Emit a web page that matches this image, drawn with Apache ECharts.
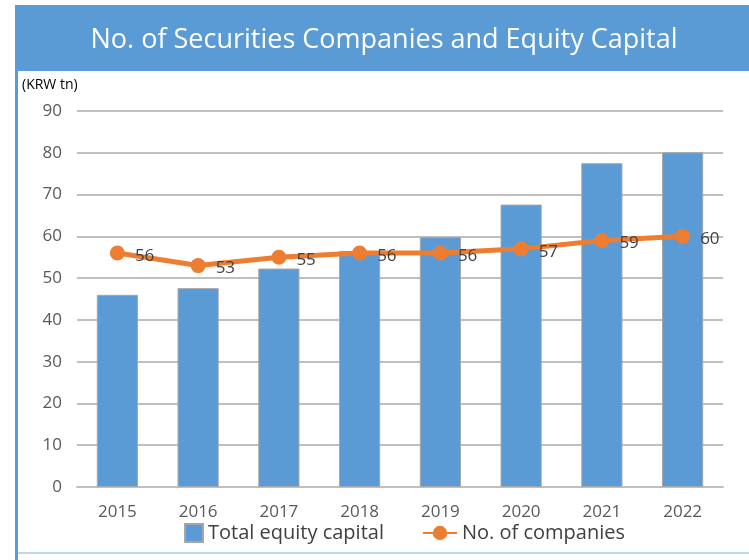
<!DOCTYPE html>
<html>
<head>
<meta charset="utf-8">
<script src="https://cdn.jsdelivr.net/npm/echarts@6/dist/echarts.min.js"></script>
<style>
  html, body { margin: 0; padding: 0; background: #fff; }
  #chart { width: 749px; height: 560px; }
</style>
</head>
<body>
<div id="chart"></div>
<script>
  // data
  const years = ['2015', '2016', '2017', '2018', '2019', '2020', '2021', '2022'];
  const equityCapital = [46, 47.6, 52.3, 56.5, 59.8, 67.6, 77.5, 80.1];
  const companies = [56, 53, 55, 56, 56, 57, 59, 60];
  const yTicks = { min: 0, max: 90, interval: 10 };

  const chart = echarts.init(document.getElementById('chart'));
  const font = 'Open Sans';
  const legendText = { color: '#404040', fontSize: 20, fontFamily: font };

  const option = {
    backgroundColor: '#fff',
    animation: false,
    graphic: [
      // header band
      { type: 'rect', shape: { x: 15, y: 5, width: 734, height: 66 }, style: { fill: '#5B9BD5' } },
      // left border
      { type: 'rect', shape: { x: 15, y: 5, width: 3, height: 555 }, style: { fill: '#5B9BD5' } },
      // bottom line
      { type: 'rect', shape: { x: 18, y: 552, width: 731, height: 2 }, style: { fill: '#BDD7EE' } },
      {
        type: 'text', x: 384, y: 40,
        style: {
          text: 'No. of Securities Companies and Equity Capital', fill: '#fff',
          font: '27px "Open Sans"', textAlign: 'center', textVerticalAlign: 'middle'
        }
      },
      {
        type: 'text', left: 22, top: 78,
        style: { text: '(KRW tn)', fill: '#000', font: '14px "Open Sans"' }
      }
    ],
    grid: { left: 77, right: 26, top: 111, bottom: 73 },
    legend: [
      {
        bottom: 12, left: 179,
        itemWidth: 18, itemHeight: 18, itemGap: 4,
        icon: 'rect',
        textStyle: legendText,
        data: ['Total equity capital']
      },
      {
        bottom: 12, left: 417,
        itemWidth: 34, itemHeight: 18,
        textStyle: legendText,
        data: ['No. of companies']
      }
    ],
    xAxis: {
      type: 'category',
      data: years,
      axisLine: { lineStyle: { color: '#BFBFBF', width: 2 } },
      axisTick: { show: false },
      axisLabel: { color: '#595959', fontSize: 17, fontFamily: font, margin: 17 }
    },
    yAxis: {
      type: 'value',
      min: yTicks.min, max: yTicks.max, interval: yTicks.interval,
      axisLine: { show: false },
      axisTick: { show: false },
      splitLine: { lineStyle: { color: '#BFBFBF', width: 2 } },
      axisLabel: { color: '#595959', fontSize: 17, fontFamily: font, margin: 15 }
    },
    series: [
      {
        name: 'Total equity capital',
        type: 'bar',
        data: equityCapital,
        barWidth: '51%',
        itemStyle: { color: '#5B9BD5', borderColor: '#A6A6A6', borderWidth: 1 }
      },
      {
        name: 'No. of companies',
        type: 'line',
        data: companies,
        symbol: 'circle',
        symbolSize: 15,
        lineStyle: { color: '#ED7D31', width: 5 },
        itemStyle: { color: '#ED7D31' },
        label: {
          show: true, position: 'right', distance: 10, offset: [0, 3],
          color: '#404040', fontSize: 17, fontFamily: font
        }
      }
    ]
  };

  chart.setOption(option);
</script>
</body>
</html>
